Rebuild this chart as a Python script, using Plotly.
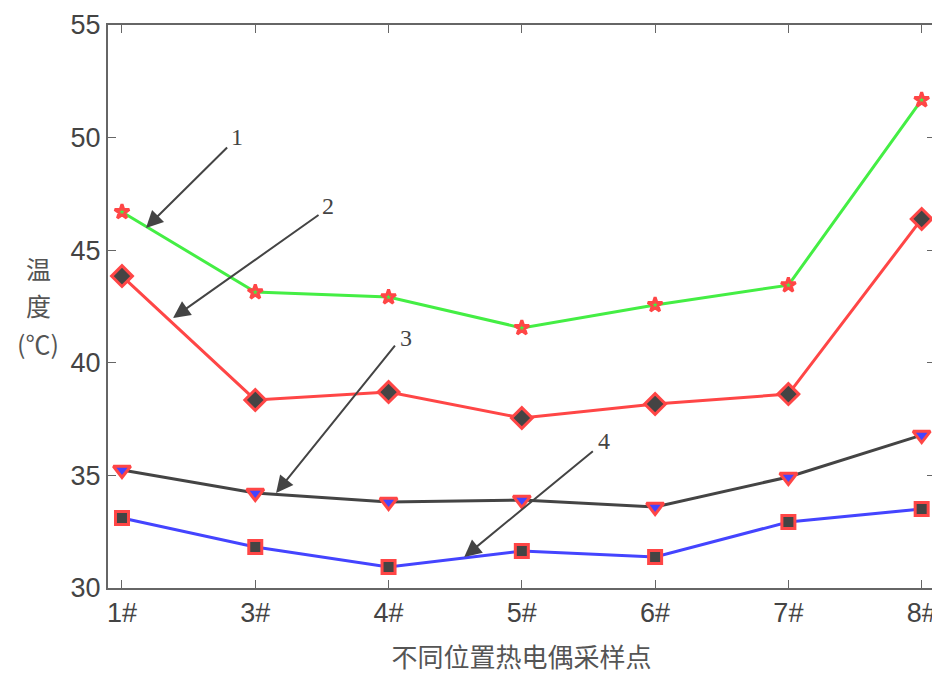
import plotly.graph_objects as go

categories = ["1#", "3#", "4#", "5#", "6#", "7#", "8#"]
series1 = [46.70, 43.14, 42.92, 41.55, 42.57, 43.45, 51.67]
series2 = [43.85, 38.35, 38.70, 37.55, 38.17, 38.61, 46.39]
series3 = [35.24, 34.22, 33.82, 33.91, 33.60, 34.93, 36.79]
series4 = [33.11, 31.82, 30.93, 31.64, 31.38, 32.93, 33.51]
y_ticks = [30, 35, 40, 45, 50, 55]

arrow_labels = ["1", "2", "3", "4"]
arrow_head_x = [0.18, 0.383, 1.156, 2.568]
arrow_head_y = [45.99, 41.99, 34.22, 31.38]
arrow_tail_x = [0.80, 1.486, 2.057, 3.544]
arrow_tail_y = [49.63, 46.61, 40.83, 36.13]
label_x = [0.86, 1.546, 2.13, 3.62]
label_y = [50.03, 46.96, 41.10, 36.53]

xi = list(range(len(categories)))
red = "#ff4646"

fig = go.Figure()
fig.add_trace(go.Scatter(x=xi, y=series1, mode="lines+markers",
                         line=dict(color="#44ee44", width=3),
                         marker=dict(symbol="star", size=11, color="#44ee44",
                                     line=dict(color=red, width=3))))
fig.add_trace(go.Scatter(x=xi, y=series2, mode="lines+markers",
                         line=dict(color=red, width=3),
                         marker=dict(symbol="diamond", size=16, color="#444444",
                                     line=dict(color=red, width=3))))
fig.add_trace(go.Scatter(x=xi, y=series3, mode="lines+markers",
                         line=dict(color="#444444", width=3),
                         marker=dict(symbol="triangle-down", size=15, color="#4444ff",
                                     line=dict(color=red, width=3))))
fig.add_trace(go.Scatter(x=xi, y=series4, mode="lines+markers",
                         line=dict(color="#4444ff", width=3),
                         marker=dict(symbol="square", size=13, color="#444444",
                                     line=dict(color=red, width=3))))

annotations = []
for lab, hx, hy, tx, ty, lx, ly in zip(arrow_labels, arrow_head_x, arrow_head_y,
                                       arrow_tail_x, arrow_tail_y, label_x, label_y):
    annotations.append(dict(x=hx, y=hy, ax=tx, ay=ty, xref="x", yref="y",
                            axref="x", ayref="y", text="", showarrow=True,
                            arrowhead=2, arrowsize=1.7, arrowwidth=2,
                            arrowcolor="#444444"))
    annotations.append(dict(x=lx, y=ly, xref="x", yref="y", text=lab,
                            showarrow=False,
                            font=dict(family="Liberation Serif", size=24, color="#444444")))

# page has an 8px body margin; work in page pixels and subtract it
off = 8
W, H = 940 - off, 674 - off
plot_left, plot_right, plot_top, plot_bottom = 108 - off, 935 - off, 25 - off, 588 - off

for txt, px, py in [("温", 38, 268), ("度", 38, 305), ("(℃)", 38, 343)]:
    annotations.append(dict(x=(px - off - plot_left) / (plot_right - plot_left),
                            y=1 - (py - off - plot_top) / (plot_bottom - plot_top),
                            xref="paper", yref="paper", text=txt,
                            xanchor="center", yanchor="middle",
                            showarrow=False, font=dict(family="Noto Sans CJK SC", size=25,
                                                       color="#555555")))

fig.update_layout(
    width=W, height=H,
    margin=dict(l=plot_left, r=W - plot_right, t=plot_top, b=H - plot_bottom),
    plot_bgcolor="white", paper_bgcolor="white",
    showlegend=False,
    annotations=annotations,
    xaxis=dict(range=[-0.105, 6.10], tickmode="array", tickvals=xi, ticktext=categories,
               automargin=False,
               showgrid=False, zeroline=False, showline=True, linecolor="#666666",
               linewidth=2, mirror="ticks", ticks="inside", ticklen=8, tickcolor="#666666",
               tickfont=dict(family="Liberation Sans", size=27, color="#444444"),
               title=dict(text="不同位置热电偶采样点", standoff=21,
                          font=dict(family="Noto Sans CJK SC", size=26, color="#555555"))),
    yaxis=dict(range=[30, 55], tickmode="array", tickvals=y_ticks,
               automargin=False,
               showgrid=False, zeroline=False, showline=True, linecolor="#666666",
               linewidth=2, mirror="ticks", ticks="inside", ticklen=8, tickcolor="#666666",
               tickfont=dict(family="Liberation Sans", size=27, color="#444444")),
)

fig.write_html("out.html")
